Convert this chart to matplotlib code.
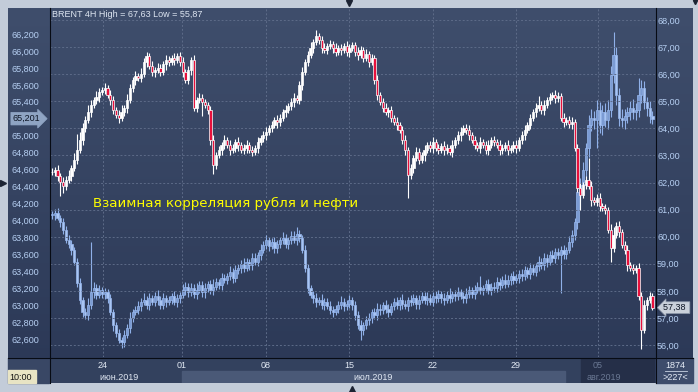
import numpy as np
import matplotlib
matplotlib.use('Agg')
import matplotlib.pyplot as plt
from matplotlib import transforms
from matplotlib.patches import Rectangle
from matplotlib.colors import LinearSegmentedColormap

#===================================================================================
#                           data
#===================================================================================
# BRENT 4H closes (right axis), open = previous close
brent_close = [
    62.39, 62.46, 62.24, 62.02, 61.87, 62.09, 62.24, 62.53, 62.83, 63.20,
    63.57, 64.01, 64.31, 64.60, 64.86, 65.05, 65.16, 65.34, 65.42, 65.49,
    65.23, 65.05, 64.68, 64.49, 64.38, 64.60, 64.75, 65.05, 65.49, 65.78,
    65.93, 65.86, 66.00, 66.45, 66.67, 66.30, 66.08, 66.15, 66.23, 66.08,
    66.37, 66.52, 66.45, 66.60, 66.52, 66.67, 66.45, 66.08, 65.78, 66.15,
    66.52, 64.75, 65.05, 65.12, 64.97, 64.86, 64.68, 63.57, 62.65, 63.01,
    63.20, 63.38, 63.57, 63.38, 63.20, 63.28, 63.49, 63.38, 63.20, 63.28,
    63.38, 63.20, 63.12, 63.28, 63.49, 63.64, 63.75, 63.86, 64.01, 64.12,
    64.31, 64.23, 64.38, 64.60, 64.68, 64.82, 64.97, 65.12, 65.05, 65.60,
    66.08, 66.45, 66.71, 66.97, 67.19, 67.41, 67.26, 66.97, 66.89, 67.04,
    67.11, 66.97, 66.82, 66.97, 66.89, 67.04, 66.82, 66.97, 67.08, 66.82,
    66.71, 66.89, 66.60, 66.74, 66.45, 66.60, 65.78, 65.23, 64.97, 64.75,
    64.60, 64.68, 64.38, 64.23, 64.12, 63.94, 63.57, 63.20, 62.28, 62.53,
    62.90, 63.12, 62.83, 63.01, 63.20, 63.38, 63.28, 63.49, 63.28, 63.20,
    63.35, 63.20, 63.28, 63.12, 63.38, 63.57, 63.75, 63.86, 64.01, 63.94,
    63.75, 63.57, 63.38, 63.28, 63.49, 63.38, 63.20, 63.38, 63.57, 63.49,
    63.38, 63.20, 63.28, 63.38, 63.20, 63.28, 63.38, 63.28, 63.57, 63.75,
    63.94, 64.12, 64.38, 64.60, 64.75, 64.86, 64.68, 64.86, 65.05, 65.16,
    65.23, 65.12, 65.20, 64.38, 64.23, 64.31, 64.16, 64.23, 63.28, 61.80,
    61.54, 61.91, 62.09, 61.87, 61.35, 61.28, 61.43, 61.13, 61.06, 60.98,
    60.25, 59.58, 60.06, 60.39, 60.17, 59.69, 59.51, 58.95, 58.84, 58.77,
    58.84, 57.81, 56.55, 57.48, 57.66, 57.81, 57.38]
brent_up = [
    .15, .10, .20, .12, .18, .15, .22, .10, .25, .60,
    .30, .20, .15, .25, .18, .12, .20, .15, .10, .18,
    .12, .20, .15, .10, .18, .25, .12, .20, .15, .10,
    .18, .12, .22, .15, .15, .12, .20, .10, .18, .15,
    .12, .20, .15, .10, .18, .12, .15, .20, .10, .15,
    .12, .18, .10, .20, .15, .12, .10, .15, .20, .12,
    .15, .10, .20, .12, .18, .15, .10, .20, .12, .15,
    .18, .12, .15, .10, .20, .12, .15, .18, .10, .15,
    .12, .20, .15, .10, .18, .12, .15, .20, .10, .15,
    .18, .12, .15, .20, .10, .22, .12, .15, .18, .10,
    .15, .12, .18, .10, .15, .12, .20, .15, .10, .12,
    .18, .15, .10, .20, .12, .15, .10, .18, .12, .15,
    .20, .12, .15, .10, .18, .12, .15, .20, .10, .15,
    .12, .18, .15, .10, .20, .12, .15, .18, .10, .15,
    .12, .20, .15, .10, .18, .12, .15, .20, .10, .15,
    .18, .12, .15, .10, .20, .12, .15, .18, .10, .15,
    .12, .20, .15, .10, .18, .12, .15, .20, .10, .15,
    .18, .12, .15, .10, .20, .35, .15, .18, .10, .15,
    .12, .20, .15, .10, .18, .12, .15, .20, .10, .15,
    .18, .12, .15, .81, .20, .12, .15, .18, .10, .15,
    .12, .20, .30, .15, .18, .12, .15, .20, .10, .15,
    .12, .20, .15, .18, .12, .15, .10]
brent_dn = [
    .12, .15, .20, .50, .25, .15, .12, .18, .10, .15,
    .12, .18, .15, .10, .20, .12, .15, .18, .10, .15,
    .12, .20, .15, .10, .18, .12, .15, .20, .10, .15,
    .18, .12, .15, .10, .20, .12, .15, .18, .10, .15,
    .12, .20, .15, .10, .18, .12, .15, .20, .10, .15,
    .18, .12, .15, .10, .50, .12, .15, .18, .35, .15,
    .12, .20, .15, .10, .18, .12, .15, .20, .10, .15,
    .18, .12, .15, .10, .20, .12, .15, .18, .10, .15,
    .12, .20, .15, .10, .18, .12, .15, .20, .10, .15,
    .18, .12, .15, .10, .20, .12, .15, .18, .10, .15,
    .12, .20, .15, .10, .18, .12, .15, .20, .10, .15,
    .18, .12, .15, .10, .20, .12, .15, .18, .10, .15,
    .12, .20, .15, .10, .18, .12, .15, .20, .85, .15,
    .18, .12, .15, .10, .20, .12, .15, .18, .10, .15,
    .12, .20, .15, .10, .18, .12, .15, .20, .10, .15,
    .18, .12, .15, .10, .20, .12, .15, .18, .10, .15,
    .12, .20, .15, .10, .18, .12, .15, .20, .10, .15,
    .18, .12, .15, .10, .20, .12, .15, .18, .10, .15,
    .12, .20, .15, .10, .18, .12, .15, .20, .10, .15,
    .56, .12, .15, .10, .20, .12, .15, .18, .10, .15,
    .12, .52, .15, .10, .18, .12, .15, .20, .10, .15,
    .12, .15, .68, .10, .18, .12, .10]

# USD/RUB 4H closes (left axis)
rub_close = [
    64.06, 64.09, 64.03, 63.98, 63.89, 63.77, 63.72, 63.65, 63.51, 63.26,
    63.06, 62.92, 62.88, 63.00, 63.15, 63.20, 63.12, 63.18, 63.13, 63.15,
    63.08, 62.92, 62.76, 62.67, 62.59, 62.56, 62.65, 62.73, 62.85, 62.92,
    62.94, 62.99, 63.04, 63.06, 63.00, 63.08, 63.04, 63.11, 63.06, 63.00,
    63.08, 63.04, 63.06, 63.11, 63.04, 63.08, 63.12, 63.18, 63.22, 63.15,
    63.20, 63.13, 63.18, 63.24, 63.15, 63.20, 63.25, 63.18, 63.22, 63.27,
    63.24, 63.32, 63.30, 63.34, 63.39, 63.32, 63.41, 63.44, 63.48, 63.44,
    63.51, 63.47, 63.56, 63.51, 63.59, 63.65, 63.71, 63.77, 63.70, 63.74,
    63.67, 63.72, 63.77, 63.79, 63.72, 63.77, 63.82, 63.77, 63.84, 63.79,
    63.65, 63.44, 63.20, 63.12, 63.08, 63.04, 63.06, 63.00, 63.04, 62.99,
    62.94, 62.92, 62.96, 63.00, 63.04, 62.99, 63.01, 63.06, 63.00, 62.88,
    62.76, 62.71, 62.76, 62.82, 62.85, 62.92, 62.88, 62.96, 62.94, 63.00,
    62.96, 62.92, 62.99, 63.04, 63.00, 63.06, 63.01, 62.99, 63.06, 63.04,
    63.08, 63.01, 63.06, 63.11, 63.06, 63.08, 63.04, 63.11, 63.08, 63.13,
    63.08, 63.06, 63.12, 63.08, 63.13, 63.11, 63.15, 63.11, 63.08, 63.13,
    63.18, 63.13, 63.18, 63.22, 63.18, 63.20, 63.25, 63.18, 63.22, 63.20,
    63.27, 63.24, 63.30, 63.25, 63.30, 63.34, 63.30, 63.32, 63.37, 63.34,
    63.41, 63.37, 63.44, 63.39, 63.46, 63.51, 63.47, 63.56, 63.51, 63.59,
    63.56, 63.63, 63.59, 63.65, 63.60, 63.65, 63.74, 63.83, 63.98, 64.33,
    64.42, 64.59, 64.85, 65.13, 65.21, 65.18, 65.30, 65.13, 65.28, 65.18,
    65.30, 65.72, 65.95, 65.48, 65.21, 65.18, 65.23, 65.28, 65.33, 65.28,
    65.30, 65.48, 65.56, 65.40, 65.33, 65.23, 65.201]
rub_up = [
    .05, .04, .06, .03, .05, .04, .06, .05, .04, .05,
    .06, .04, .05, .08, .60, .07, .05, .06, .04, .05,
    .04, .05, .03, .04, .05, .03, .06, .05, .07, .04,
    .05, .06, .04, .08, .05, .06, .04, .05, .07, .05,
    .06, .04, .05, .03, .06, .05, .04, .07, .05, .04,
    .06, .05, .08, .04, .05, .06, .04, .05, .09, .05,
    .04, .06, .05, .04, .07, .05, .06, .04, .05, .08,
    .05, .04, .06, .05, .04, .07, .05, .06, .04, .05,
    .06, .05, .04, .07, .05, .04, .06, .05, .08, .05,
    .04, .06, .05, .04, .05, .06, .04, .07, .05, .04,
    .06, .05, .04, .05, .07, .04, .05, .06, .04, .05,
    .05, .06, .04, .05, .06, .04, .05, .07, .05, .04,
    .06, .05, .04, .05, .06, .04, .07, .05, .04, .06,
    .05, .04, .06, .05, .04, .07, .05, .04, .06, .05,
    .04, .06, .05, .08, .04, .05, .06, .04, .05, .07,
    .05, .04, .06, .05, .12, .04, .05, .06, .04, .05,
    .06, .05, .04, .07, .05, .04, .06, .05, .04, .06,
    .05, .04, .06, .05, .04, .07, .05, .06, .04, .05,
    .06, .05, .04, .05, .06, .04, .08, .06, .05, .10,
    .08, .10, .06, .12, .10, .08, .12, .10, .08, .10,
    .12, .10, .27, .10, .08, .10, .08, .06, .08, .10,
    .08, .20, .10, .08, .06, .08, .06]
rub_dn = [
    .04, .05, .03, .06, .05, .04, .05, .06, .04, .05,
    .05, .06, .04, .05, .04, .06, .05, .04, .05, .06,
    .05, .04, .06, .05, .04, .06, .05, .04, .06, .05,
    .04, .05, .06, .04, .05, .06, .04, .05, .06, .04,
    .05, .06, .04, .05, .04, .06, .05, .04, .06, .05,
    .04, .05, .06, .04, .05, .06, .04, .05, .06, .04,
    .05, .06, .04, .05, .04, .06, .05, .04, .06, .05,
    .04, .05, .06, .04, .05, .06, .04, .05, .06, .04,
    .05, .06, .04, .05, .04, .06, .05, .04, .06, .05,
    .04, .05, .06, .04, .05, .06, .04, .05, .06, .04,
    .05, .06, .04, .05, .04, .06, .05, .04, .06, .05,
    .04, .12, .06, .04, .05, .06, .04, .05, .06, .04,
    .05, .06, .04, .05, .04, .06, .05, .04, .06, .05,
    .04, .05, .06, .04, .05, .06, .04, .05, .06, .04,
    .05, .06, .04, .05, .04, .06, .05, .04, .06, .05,
    .04, .05, .06, .04, .05, .06, .04, .05, .06, .04,
    .05, .06, .04, .05, .04, .06, .05, .04, .06, .05,
    .04, .05, .06, .04, .05, .06, .04, .05, .06, .04,
    .05, .06, .04, .45, .05, .06, .04, .05, .06, .08,
    .10, .08, .12, .10, .08, .10, .33, .10, .12, .08,
    .10, .08, .10, .12, .10, .08, .10, .08, .10, .08,
    .10, .08, .10, .08, .10, .08, .06]

# x axis: Monday of each week (bar index) and labels
week_pos    = [18.3, 46.8, 77.0, 106.8, 137.0, 166.9, 196.4]
week_labels = ['24', '01', '08', '15', '22', '29', '05']
month_labels = ['июн.2019', 'июл.2019', 'авг.2019']
jul_span = (46.8, 184.4)     # 01 Jul .. 01 Aug
rub_ticks   = np.arange(62.6, 66.21, 0.2)
brent_ticks = np.arange(56, 69, 1)

#===================================================================================
#                           helpers
#===================================================================================
W, H = 698, 392

def fmt(v, d):
    return f'{v:.{d}f}'.replace('.', ',')

def ohlc(close, up, dn):
    c = np.asarray(close)
    o = np.r_[c[0], c[:-1]]
    hi = np.maximum(o, c) + np.asarray(up)
    lo = np.minimum(o, c) - np.asarray(dn)
    return o, hi, lo, c

def candles(axis, close, up, dn, edge, fill_up, fill_dn, wick):
    o, hi, lo, c = ohlc(close, up, dn)
    x = np.arange(len(c))
    axis.vlines(x, lo, hi, color=wick, lw=0.8, zorder=2)
    h = np.maximum(np.abs(c - o), 0.015)
    fc = np.where(c >= o, fill_up, fill_dn)
    axis.bar(x, h, bottom=np.minimum(o, c), width=0.8, color=fc,
             edgecolor=edge, lw=0.5, zorder=3)
    return hi, lo

def px_axes(z):
    a = fig.add_axes([0, 0, 1, 1], zorder=z)
    a.set_xlim(0, W); a.set_ylim(H, 0); a.axis('off')
    return a

#===================================================================================
#                              plots
#===================================================================================
plt.rcParams['font.family'] = ['Liberation Sans', 'DejaVu Sans']
fig = plt.figure(figsize=(W/100, H/100), dpi=100)
fig.patch.set_facecolor('#c3ccd9')

# panel background with vertical gradient
bg = px_axes(0)
cm = LinearSegmentedColormap.from_list('panel', ['#3f4e6c', '#2b3856'])
bg.imshow(np.linspace(0, 1, 256).reshape(-1, 1), cmap=cm, extent=(8, 693, 383, 8),
          aspect='auto', interpolation='bilinear')
bg.add_patch(Rectangle((8, 358), 41, 25, color='#394765'))
bg.add_patch(Rectangle((656, 358), 37, 25, color='#3d4c6b'))

# main axes: USD/RUB on left, BRENT on right
ax = fig.add_axes([50/W, 1 - 357/H, 605/W, 349/H], zorder=2)
ax.patch.set_visible(False)
ax2 = ax.twinx()
ax2.set_zorder(3)
ax2.patch.set_visible(False)

candles(ax, rub_close, rub_up, rub_dn, '#98b8ee', '#7b9bd3', '#a9c5f3', '#8fb0e8')
b_hi, b_lo = candles(ax2, brent_close, brent_up, brent_dn, '#ffffff', '#ffffff',
                     '#e8103c', '#ffffff')

ax.set_xlim(-0.72, 216.9)
ax.set_ylim(62.388, 66.507)
ax2.set_ylim(55.557, 68.443)

for a in (ax, ax2):
    for s in a.spines.values():
        s.set_visible(False)

ax.set_xticks(week_pos)
ax.tick_params(axis='x', length=0, labelbottom=False)
ax.grid(axis='x', color='#5d6b88', ls=(0, (2, 2)), lw=0.7)
ax.set_axisbelow(True)
ax.set_yticks(rub_ticks)
# the last-price marker takes the place of the nearest tick label
ax.set_yticklabels(['' if abs(v - rub_close[-1]) < 0.05 else fmt(v, 3) for v in rub_ticks])
ax.tick_params(axis='y', length=0, pad=7.5, labelsize=6.5, labelcolor='#b6cff2')

ax2.set_yticks(brent_ticks)
ax2.set_yticklabels([fmt(v, 2) for v in brent_ticks])
ax2.tick_params(axis='y', length=0, pad=1.5, labelsize=6.5, labelcolor='#b6cff2')
ax2.grid(axis='y', color='#5d6b88', ls=(0, (2, 2)), lw=0.7)
ax2.set_axisbelow(True)

# last-price markers
tr_r = transforms.blended_transform_factory(ax2.transAxes, ax2.transData)
ax2.text(1.014, brent_close[-1], fmt(brent_close[-1], 2) + ' ', transform=tr_r, ha='left',
         va='center', fontsize=6.5, color='#0d1524', clip_on=False, zorder=6,
         bbox=dict(boxstyle='larrow,pad=0.15', fc='#c9d0da', ec='#8f9aac', lw=0.5))
tr_l = transforms.blended_transform_factory(ax.transAxes, ax.transData)
ax.text(-0.016, rub_close[-1], fmt(rub_close[-1], 3), transform=tr_l, ha='right',
        va='center', fontsize=6.5, color='#0d1524', clip_on=False, zorder=6,
        bbox=dict(boxstyle='rarrow,pad=0.2', fc='#8fa4c3', ec='#8fa4c3', lw=0.5))

# bottom date axis
bx = fig.add_axes([50/W, 1 - 383/H, 605/W, 25/H], sharex=ax, zorder=1)
bx.axis('off')
bx.set_ylim(25, 0)
bx.add_patch(Rectangle((0, 0), 1, 1, transform=bx.transAxes, color='#33415e'))
bx.add_patch(Rectangle((jul_span[0], 13), jul_span[1] - jul_span[0], 12, color='#4a5977'))
bx.add_patch(Rectangle((190.3, 0), 30, 25, color='#252f48'))
for p, lab in zip(week_pos, week_labels):
    col = '#6a7893' if p > 190 else '#e1e8f3'
    bx.text(p, 7, lab, ha='center', va='center', fontsize=6.5, color=col)
bx.text(17.0, 19, month_labels[0], ha='left', va='center', fontsize=6.5, color='#e1e8f3')
bx.text(sum(jul_span) / 2, 19, month_labels[1], ha='center', va='center', fontsize=6.5,
        color='#e1e8f3')
bx.text(198.6, 19, month_labels[2], ha='center', va='center', fontsize=6.5, color='#6a7893')

# foreground frame, texts and small markers
fg = px_axes(5)
for xx in (49.5, 655.5):
    fg.plot([xx, xx], [8, 383], color='#070b14', lw=0.8)
fg.plot([8, 693], [357.5, 357.5], color='#070b14', lw=0.8)
fg.text(52, 14, f'BRENT 4H High = {fmt(b_hi.max(), 2)} Low = {fmt(b_lo.min(), 2)}',
        ha='left', va='center', fontsize=6.5, color='#dde5f1')
fg.text(93, 203, 'Взаимная корреляция рубля и нефти', ha='left', va='center',
        fontsize=9.6, color='#ffff00', family='DejaVu Sans')
fg.add_patch(Rectangle((8, 370), 28, 13, color='#e8e4c4'))
fg.text(9, 377, '10:00', ha='left', va='center', fontsize=6.5, color='#141414')
fg.text(675, 365, '1874', ha='center', va='center', fontsize=6.5, color='#e6edf7')
fg.plot([665, 687], [371, 371], color='#c8d2e2', lw=0.6)
fg.text(675, 377, '>227<', ha='center', va='center', fontsize=6.5, color='#e6edf7')
fg.plot(349, 3, 'v', ms=4, color='#1c2333')
fg.plot(352, 389, '^', ms=4, color='#1c2333')
fg.plot(3, 183, '>', ms=4, color='#1c2333')
fg.plot(695, 2, 'v', ms=3, color='#1c2333')

fig.savefig('out.png', dpi=100, facecolor=fig.get_facecolor())
